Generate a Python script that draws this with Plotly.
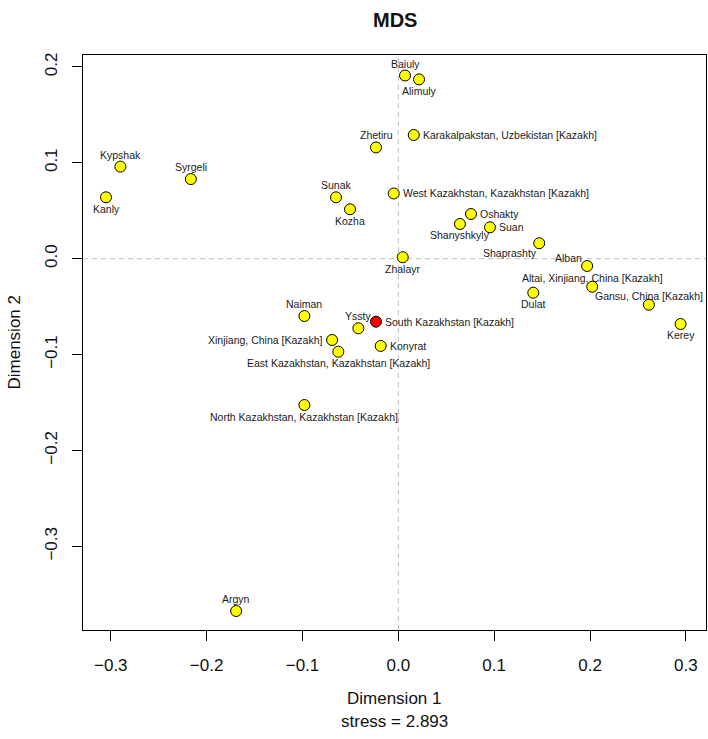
import plotly.graph_objects as go

# ---- data ----
names = [
    "Kanly", "Kypshak", "Syrgeli", "Baiuly", "Alimuly", "Zhetiru",
    "Karakalpakstan, Uzbekistan [Kazakh]", "Sunak", "Kozha",
    "West Kazakhstan, Kazakhstan [Kazakh]", "Oshakty", "Shanyshkyly", "Suan",
    "Shaprashty", "Zhalayr", "Alban", "Altai, Xinjiang, China [Kazakh]", "Dulat",
    "Gansu, China [Kazakh]", "Kerey", "Naiman", "Yssty",
    "South Kazakhstan [Kazakh]", "Xinjiang, China [Kazakh]",
    "East Kazakhstan, Kazakhstan [Kazakh]", "Konyrat",
    "North Kazakhstan, Kazakhstan [Kazakh]", "Argyn",
]
dim1 = [
    -0.305, -0.290, -0.2165, 0.007, 0.0216, -0.0233,
    0.0161, -0.065, -0.0504,
    -0.0048, 0.0758, 0.0643, 0.0956,
    0.147, 0.0046, 0.197, 0.2023, 0.1408,
    0.2614, 0.2945, -0.098, -0.0417,
    -0.0233, -0.0691,
    -0.0626, -0.0184,
    -0.098, -0.1692,
]
dim2 = [
    0.064, 0.096, 0.083, 0.191, 0.187, 0.116,
    0.129, 0.064, 0.0515,
    0.068, 0.0466, 0.0362, 0.0327,
    0.0161, 0.0015, -0.0076, -0.0292, -0.0355,
    -0.048, -0.0681, -0.0598, -0.0726,
    -0.0657, -0.0848,
    -0.097, -0.091,
    -0.1526, -0.3674,
]
highlight = "South Kazakhstan [Kazakh]"
stress = 2.893
x_ticks = [-0.3, -0.2, -0.1, 0.0, 0.1, 0.2, 0.3]
y_ticks = [-0.3, -0.2, -0.1, 0.0, 0.1, 0.2]

# ---- label placement (style only) ----
label_place = [
    "b", "t", "t", "t", "b", "t",
    "r", "t", "b",
    "r", "r", "b", "r",
    "bl", "b", "tl", "tc", "b",
    "tc", "b", "t", "t",
    "r", "l",
    "b", "r",
    "b", "t",
]
place_map = {
    "t": ("center", 0, 12),
    "b": ("center", 0, -11.5),
    "r": ("left", 7, 0),
    "l": ("right", -8, 0),
    "bl": ("right", 0, -9.5),
    "tl": ("right", -3, 7.5),
    "tc": ("center", 0, 9),
}

FONT = "Liberation Sans, Arial, Helvetica, sans-serif"
fills = ["#ff0000" if n == highlight else "#ffff00" for n in names]

fig = go.Figure()
fig.add_trace(go.Scatter(
    x=dim1, y=dim2, mode="markers",
    marker=dict(size=11, color=fills, line=dict(color="black", width=1)),
    hovertext=names, hoverinfo="text", showlegend=False,
))

annotations = []
for n, x, y, p in zip(names, dim1, dim2, label_place):
    xa, xs, ys = place_map[p]
    annotations.append(dict(
        x=x, y=y, xref="x", yref="y", text=n, showarrow=False,
        xanchor=xa, yanchor="middle", xshift=xs, yshift=ys,
        font=dict(family=FONT, size=10.5, color="#1a1a1a"),
    ))

# titles
annotations += [
    dict(x=0.5, y=1, xref="paper", yref="paper", yshift=35, text="<b>MDS</b>",
         showarrow=False, xanchor="center", yanchor="middle",
         font=dict(family=FONT, size=20, color="#111")),
    dict(x=0.5, y=0, xref="paper", yref="paper", yshift=-68, text="Dimension 1",
         showarrow=False, xanchor="center", yanchor="middle",
         font=dict(family=FONT, size=17, color="#111")),
    dict(x=0.5, y=0, xref="paper", yref="paper", yshift=-91,
         text=f"stress = {stress}",
         showarrow=False, xanchor="center", yanchor="middle",
         font=dict(family=FONT, size=17, color="#111")),
    dict(x=0, y=0.5, xref="paper", yref="paper", xshift=-69, text="Dimension 2",
         showarrow=False, xanchor="center", yanchor="middle", textangle=-90,
         font=dict(family=FONT, size=17, color="#111")),
]

shapes = [
    dict(type="line", xref="x", yref="paper", x0=0, x1=0, y0=0, y1=1,
         line=dict(color="#bdbdbd", width=1, dash="5px,4px"), layer="below"),
    dict(type="line", xref="paper", yref="y", x0=0, x1=1, y0=0, y1=0,
         line=dict(color="#bdbdbd", width=1, dash="5px,4px"), layer="below"),
]

axis_common = dict(
    showgrid=False, zeroline=False, showline=True, linecolor="black",
    linewidth=1, mirror=True, ticks="outside", ticklen=10, tickwidth=1,
    tickcolor="black", tickformat=".1f",
    tickfont=dict(family=FONT, size=17, color="#111"),
)

fig.update_layout(
    width=708, height=739,
    margin=dict(l=83, r=2, t=55, b=109),
    paper_bgcolor="white", plot_bgcolor="white",
    xaxis=dict(range=[-0.329, 0.321], tickvals=x_ticks, ticklabelstandoff=10,
               **axis_common),
    yaxis=dict(range=[-0.3872, 0.2124], tickvals=y_ticks, tickangle=-90,
               ticklabelstandoff=8, **axis_common),
    annotations=annotations, shapes=shapes,
    font=dict(family=FONT),
)

fig.write_html(
    "out.html",
    config={"displayModeBar": False},
    post_script="document.body.style.margin='0';document.body.style.overflow='hidden';",
)
